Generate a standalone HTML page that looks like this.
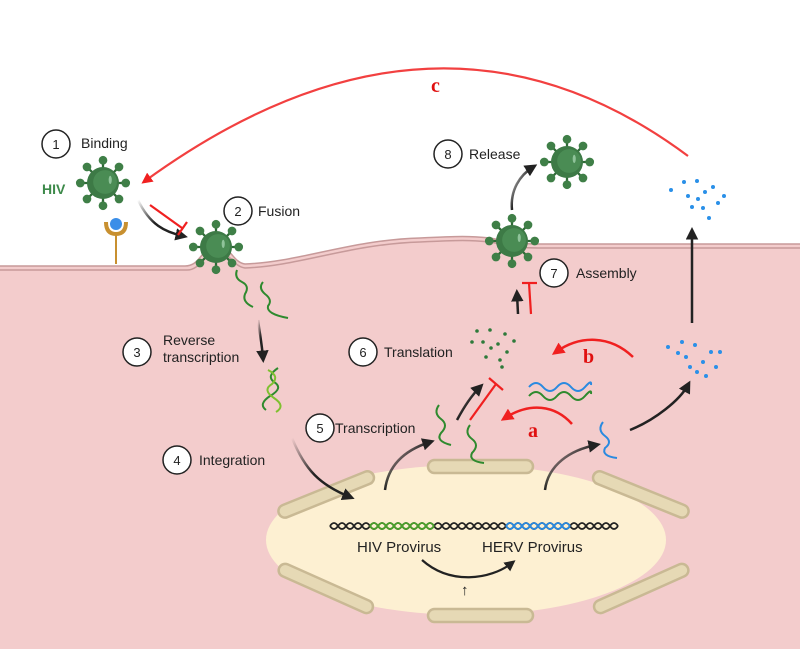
<!DOCTYPE html>
<html><head><meta charset="utf-8"><style>
html,body{margin:0;padding:0;background:#fff}
svg{display:block}
text{font-family:"Liberation Sans",sans-serif}
text.ser{font-family:"Liberation Serif",serif}
</style></head><body>
<svg width="800" height="649" viewBox="0 0 800 649" xmlns="http://www.w3.org/2000/svg">
<defs>
<symbol id="vir" viewBox="-30 -30 60 60" overflow="visible">
<g stroke="#2f6a37" stroke-width="2.2">
<line x1="0" y1="0" x2="0" y2="-22"/><line x1="0" y1="0" x2="0" y2="22"/>
<line x1="0" y1="0" x2="-22" y2="0"/><line x1="0" y1="0" x2="22" y2="0"/>
<line x1="0" y1="0" x2="15.5" y2="15.5"/><line x1="0" y1="0" x2="-15.5" y2="15.5"/>
<line x1="0" y1="0" x2="15.5" y2="-15.5"/><line x1="0" y1="0" x2="-15.5" y2="-15.5"/>
</g>
<g fill="#3f7f47">
<circle cx="0" cy="-22" r="4.2"/><circle cx="0" cy="22" r="4.2"/><circle cx="-22" cy="0" r="4.2"/><circle cx="22" cy="0" r="4.2"/>
<circle cx="15.5" cy="15.5" r="4.2"/><circle cx="-15.5" cy="15.5" r="4.2"/><circle cx="15.5" cy="-15.5" r="4.2"/><circle cx="-15.5" cy="-15.5" r="4.2"/>
</g>
<circle r="15.5" fill="#3d7a46"/>
<circle r="11.5" cx="2" cy="-1" fill="#4a8c54"/>
<ellipse cx="7" cy="-3" rx="1.5" ry="4" fill="#8fc39a"/>
</symbol>
<marker id="ab" viewBox="0 0 10 10" refX="6" refY="5" markerWidth="5" markerHeight="5" orient="auto"><path d="M0,0L10,5L0,10z" fill="#222"/></marker>
<marker id="ar" viewBox="0 0 10 10" refX="6" refY="5" markerWidth="5" markerHeight="5" orient="auto"><path d="M0,0L10,5L0,10z" fill="#f02020"/></marker>
<linearGradient id="gk" x1="0" y1="0" x2="1" y2="1"><stop offset="0" stop-color="#222" stop-opacity="0"/><stop offset="0.5" stop-color="#222"/></linearGradient>
</defs>

<path d="M0,266 L185,266 C200,266 200,250 215,246 C232,246 232,262 245,264 C300,262 350,240 420,238 C460,236 470,236 490,238 C520,244 525,244 545,244 L800,244 L800,649 L0,649 Z" fill="#f3cccc"/>
<path d="M0,266 L185,266 C200,266 200,250 215,246 C232,246 232,262 245,264 C300,262 350,240 420,238 C460,236 470,236 490,238 C520,244 525,244 545,244 L800,244" fill="none" stroke="#c79a9a" stroke-width="1.5"/>
<path d="M0,270 L187,270 C200,270 203,255 215,251 C230,251 232,266 245,268 C300,266 350,244 420,242 C460,240 470,240 490,242 C520,248 525,248 545,248 L800,248" fill="none" stroke="#c79a9a" stroke-width="1.5"/>

<ellipse cx="466" cy="540" rx="200" ry="75" fill="#fdf0d2"/>
<g fill="#e6d9b5" stroke="#c9b994" stroke-width="2.5">
<rect x="428" y="460" width="105" height="13" rx="6.5"/>
<rect x="428" y="609" width="105" height="13" rx="6.5"/>
<rect x="275" y="488" width="102" height="13" rx="6.5" transform="rotate(-22 326 494)"/>
<rect x="275" y="582" width="102" height="13" rx="6.5" transform="rotate(24 326 588)"/>
<rect x="590" y="488" width="102" height="13" rx="6.5" transform="rotate(22 641 494)"/>
<rect x="590" y="582" width="102" height="13" rx="6.5" transform="rotate(-24 641 588)"/>
</g>

<g fill="none" stroke-width="1.8">
<path d="M330,526 q4,-6 8,0 t8,0 t8,0 t8,0 t8,0 t8,0 t8,0 t8,0 t8,0 t8,0 t8,0 t8,0 t8,0 t8,0 t8,0 t8,0 t8,0 t8,0 t8,0 t8,0 t8,0 t8,0 t8,0 t8,0 t8,0 t8,0 t8,0 t8,0 t8,0 t8,0 t8,0 t8,0 t8,0 t8,0 t8,0 t8,0" stroke="#222"/>
<path d="M330,526 q4,6 8,0 t8,0 t8,0 t8,0 t8,0 t8,0 t8,0 t8,0 t8,0 t8,0 t8,0 t8,0 t8,0 t8,0 t8,0 t8,0 t8,0 t8,0 t8,0 t8,0 t8,0 t8,0 t8,0 t8,0 t8,0 t8,0 t8,0 t8,0 t8,0 t8,0 t8,0 t8,0 t8,0 t8,0 t8,0 t8,0" stroke="#222"/>
<path d="M370,526 q4,-6 8,0 t8,0 t8,0 t8,0 t8,0 t8,0 t8,0 t8,0" stroke="#4aa02a"/>
<path d="M370,526 q4,6 8,0 t8,0 t8,0 t8,0 t8,0 t8,0 t8,0 t8,0" stroke="#4aa02a"/>
<path d="M506,526 q4,-6 8,0 t8,0 t8,0 t8,0 t8,0 t8,0 t8,0 t8,0" stroke="#2a8ae0"/>
<path d="M506,526 q4,6 8,0 t8,0 t8,0 t8,0 t8,0 t8,0 t8,0 t8,0" stroke="#2a8ae0"/>
</g>
<text x="357" y="552" font-size="15" fill="#222">HIV Provirus</text>
<text x="482" y="552" font-size="15" fill="#222">HERV Provirus</text>
<path d="M422,560 C450,585 490,580 512,563" fill="none" stroke="#222" stroke-width="2.2" marker-end="url(#ab)"/>
<text x="461" y="595" font-size="15" fill="#222">↑</text>

<path d="M688,156 Q437,-31 145,181" fill="none" stroke="#f24040" stroke-width="2.2" marker-end="url(#ar)"/>
<text class="ser" x="431" y="92" font-size="20" font-weight="bold" fill="#e01010">c</text>

<path d="M116,234 L116,264" stroke="#c89030" stroke-width="2"/>
<path d="M106,222 q0,12 10,12 q10,0 10,-12" fill="none" stroke="#c89030" stroke-width="4"/>
<circle cx="116" cy="224" r="6" fill="#3b8ee8"/>

<use href="#vir" x="72" y="152" width="62" height="62"/>
<use href="#vir" x="185" y="216" width="62" height="62"/>
<use href="#vir" x="481" y="210" width="62" height="62"/>
<use href="#vir" x="536" y="131" width="62" height="62"/>
<text x="42" y="194" font-size="14" font-weight="bold" fill="#3d8a4a">HIV</text>

<path d="M138,200 C150,225 165,232 183,236" fill="none" stroke="url(#gk)" stroke-width="2.5" marker-end="url(#ab)"/>
<path d="M150,205 L182,228" stroke="#f02020" stroke-width="2.2"/>
<path d="M187,222 L178,235" stroke="#f02020" stroke-width="2.2"/>

<g fill="none" stroke="#2e8a2e" stroke-width="2">
<path d="M237,270 q-3,8 5,12 q8,4 3,12 q-3,8 8,13"/>
<path d="M263,282 q-5,6 2,12 q8,6 3,12 q-2,8 20,12"/>
</g>
<path d="M258,320 C260,335 262,345 263,358" fill="none" stroke="url(#gk)" stroke-width="2.5" marker-end="url(#ab)"/>
<g fill="none" stroke-width="2">
<path d="M278,368 q-12,8 -4,14 q10,6 -4,14 q-12,8 -4,14" stroke="#2e8a2e"/>
<path d="M268,370 q12,6 4,14 q-10,6 2,14 q12,8 2,14" stroke="#7fc030"/>
</g>

<path d="M292,438 C305,470 320,485 350,497" fill="none" stroke="url(#gk)" stroke-width="2.5" marker-end="url(#ab)"/>
<path d="M385,490 C388,465 405,450 430,442" fill="none" stroke="url(#gk)" stroke-width="2.5" marker-end="url(#ab)"/>
<path d="M545,490 C548,465 570,450 596,445" fill="none" stroke="url(#gk)" stroke-width="2.5" marker-end="url(#ab)"/>

<g fill="none" stroke="#2e8a2e" stroke-width="2">
<path d="M439,405 q-6,8 2,14 q8,6 0,14 q-6,8 10,12"/>
<path d="M470,425 q-6,8 2,14 q8,6 0,14 q-4,8 12,10"/>
</g>
<path d="M603,422 q-6,8 2,14 q8,6 0,12 q-4,8 12,10" fill="none" stroke="#2a8ae0" stroke-width="2"/>

<path d="M457,420 C465,405 472,395 480,387" fill="none" stroke="url(#gk)" stroke-width="2.5" marker-end="url(#ab)"/>
<path d="M470,420 L496,384" stroke="#f02020" stroke-width="2.2"/>
<path d="M489,378 L503,390" stroke="#f02020" stroke-width="2.2"/>

<path d="M572,424 C555,405 530,402 505,418" fill="none" stroke="#f02020" stroke-width="2.5" marker-end="url(#ar)"/>
<text class="ser" x="528" y="437" font-size="20" font-weight="bold" fill="#e01010">a</text>
<path d="M633,357 C610,335 580,335 556,352" fill="none" stroke="#f02020" stroke-width="2.5" marker-end="url(#ar)"/>
<text class="ser" x="583" y="363" font-size="20" font-weight="bold" fill="#e01010">b</text>

<g fill="none" stroke-width="2">
<path d="M529,387 q7,-8 14,0 t14,0 t14,0 t14,0 t6,-2" stroke="#2a8ae0"/>
<path d="M529,396 q7,-8 14,0 t14,0 t14,0 t14,0 t6,-2" stroke="#2e8a2e"/>
</g>

<g fill="#2e7a3a">
<circle cx="477" cy="331" r="1.8"/><circle cx="490" cy="330" r="1.8"/><circle cx="505" cy="334" r="1.8"/>
<circle cx="472" cy="342" r="1.8"/><circle cx="483" cy="342" r="1.8"/><circle cx="498" cy="344" r="1.8"/><circle cx="514" cy="341" r="1.8"/>
<circle cx="491" cy="348" r="1.8"/><circle cx="507" cy="352" r="1.8"/><circle cx="486" cy="357" r="1.8"/><circle cx="500" cy="360" r="1.8"/><circle cx="502" cy="367" r="1.8"/>
</g>
<g fill="#2a90e8">
<circle cx="668" cy="347" r="2"/><circle cx="682" cy="342" r="2"/><circle cx="695" cy="345" r="2"/><circle cx="711" cy="352" r="2"/>
<circle cx="678" cy="353" r="2"/><circle cx="686" cy="357" r="2"/><circle cx="703" cy="362" r="2"/><circle cx="720" cy="352" r="2"/>
<circle cx="697" cy="372" r="2"/><circle cx="690" cy="367" r="2"/><circle cx="716" cy="367" r="2"/><circle cx="706" cy="376" r="2"/>
</g>
<g fill="#2a90e8">
<circle cx="671" cy="190" r="2"/><circle cx="684" cy="182" r="2"/><circle cx="697" cy="181" r="2"/><circle cx="713" cy="187" r="2"/>
<circle cx="688" cy="196" r="2"/><circle cx="705" cy="192" r="2"/><circle cx="698" cy="199" r="2"/><circle cx="724" cy="196" r="2"/>
<circle cx="692" cy="207" r="2"/><circle cx="703" cy="208" r="2"/><circle cx="718" cy="203" r="2"/><circle cx="709" cy="218" r="2"/>
</g>
<path d="M692,323 L692,232" stroke="#222" stroke-width="2.5" marker-end="url(#ab)"/>

<path d="M630,430 C655,420 680,400 688,385" fill="none" stroke="url(#gk)" stroke-width="2.5" marker-end="url(#ab)"/>

<path d="M518,314 L517,294" stroke="#222" stroke-width="2.5" marker-end="url(#ab)"/>
<path d="M531,314 L529,283" stroke="#f02020" stroke-width="2.2"/>
<path d="M522,283 L537,283" stroke="#f02020" stroke-width="2.2"/>
<path d="M512,210 C510,190 520,175 533,167" fill="none" stroke="url(#gk)" stroke-width="2.5" marker-end="url(#ab)"/>

<g fill="#fff" stroke="#222" stroke-width="1.5">
<circle cx="56" cy="144" r="14"/><circle cx="238" cy="211" r="14"/><circle cx="137" cy="352" r="14"/>
<circle cx="177" cy="460" r="14"/><circle cx="320" cy="428" r="14"/><circle cx="363" cy="352" r="14"/>
<circle cx="554" cy="273" r="14"/><circle cx="448" cy="154" r="14"/>
</g>
<g font-size="13" fill="#222" text-anchor="middle">
<text x="56" y="149">1</text><text x="238" y="216">2</text><text x="137" y="357">3</text>
<text x="177" y="465">4</text><text x="320" y="433">5</text><text x="363" y="357">6</text>
<text x="554" y="278">7</text><text x="448" y="159">8</text>
</g>
<g font-size="14" fill="#222">
<text x="81" y="148">Binding</text>
<text x="258" y="216">Fusion</text>
<text x="163" y="345">Reverse</text>
<text x="163" y="362">transcription</text>
<text x="199" y="465">Integration</text>
<text x="335" y="433">Transcription</text>
<text x="384" y="357">Translation</text>
<text x="576" y="278">Assembly</text>
<text x="469" y="159">Release</text>
</g>
</svg>
</body></html>
